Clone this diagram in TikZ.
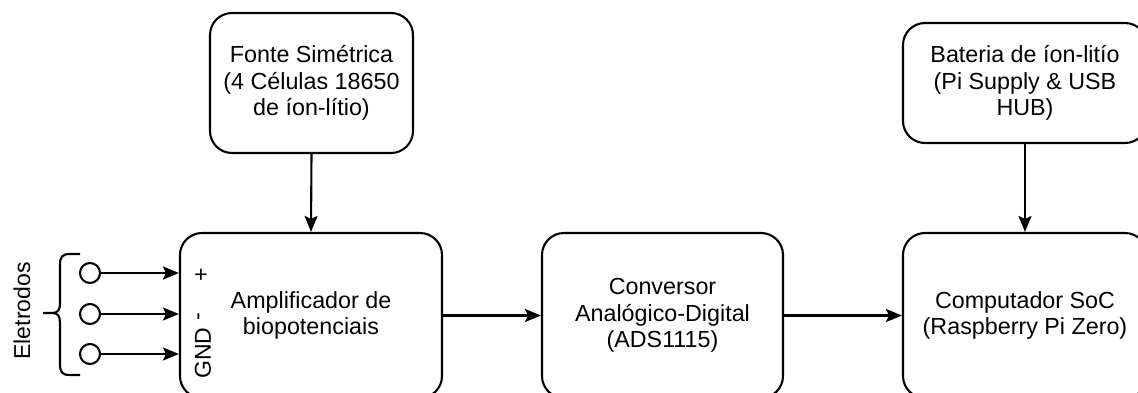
\documentclass[tikz,border=0pt]{standalone}
\usepackage{fontspec}
\setmainfont{Liberation Sans}
\usetikzlibrary{arrows.meta}

\tikzset{
  block/.style={draw, line width=2.1pt, rounded corners=22pt, align=center,
    inner sep=0pt, font=\fontsize{23.3}{26.7}\selectfont},
  lbl/.style={inner sep=0pt, font=\fontsize{23}{26.7}\selectfont},
  wire/.style={line width=2.1pt},
  arr/.style={wire, -{Stealth[length=16pt,width=13pt,inset=3pt]}},
  terminal/.style={draw, circle, line width=2.1pt, minimum size=20pt, inner sep=0pt},
}

\begin{document}
\begin{tikzpicture}[x=1pt,y=-1pt]
  \clip (0,0) rectangle (1138,392);

  % power supplies
  \node[block, minimum width=203pt, minimum height=140pt] (fonte) at (311.5,83)
    {Fonte Simétrica\\(4 Células 18650\\de íon-lítio)};
  \node[block, minimum width=244pt, minimum height=120pt] (bat) at (1025,83)
    {Bateria de íon-litío\\(Pi Supply \& USB\\HUB)};

  % signal chain
  \node[block, minimum width=262pt, minimum height=165pt] (amp) at (311,315.5)
    {Amplificador de\\biopotenciais};
  \node[block, minimum width=241pt, minimum height=165pt] (adc) at (662.5,315.5)
    {Conversor\\Analógico-Digital\\(ADS1115)};
  \node[block, minimum width=244pt, minimum height=165pt] (soc) at (1025,315.5)
    {Computador SoC\\(Raspberry Pi Zero)};

  % amplifier inputs
  \node[lbl, rotate=90] (pin+) at (202,275) {+};
  \node[lbl, rotate=90] (pin-) at (201,317) {-};
  \node[lbl, rotate=90] (gnd) at (203,353) {GND};

  % electrodes
  \node[terminal] (e1) at (90,273) {};
  \node[terminal] (e2) at (90,314) {};
  \node[terminal] (e3) at (90,354) {};
  \draw[arr] (e1.east) -- (e1.east -| amp.west);
  \draw[arr] (e2.east) -- (e2.east -| amp.west);
  \draw[arr] (e3.east) -- (e3.east -| amp.west);

  % brace grouping the electrodes
  \draw[wire] (80,254) -- (70,254) .. controls (62,254) and (60,257) .. (60,265)
    -- (60,303) .. controls (60,310) and (58,313) .. (52,313) -- (43,313);
  \draw[wire] (80,375) -- (70,375) .. controls (62,375) and (60,372) .. (60,364)
    -- (60,323) .. controls (60,316) and (58,313) .. (52,313);
  \node[lbl, rotate=90] (eletrodos) at (22,311) {Eletrodos};

  % connections
  \draw[arr] (fonte.south) -- (amp.north);
  \draw[arr] (bat.south) -- (soc.north);
  \draw[arr] (amp.east) -- (adc.west);
  \draw[arr] (adc.east) -- (soc.west);
\end{tikzpicture}
\end{document}
